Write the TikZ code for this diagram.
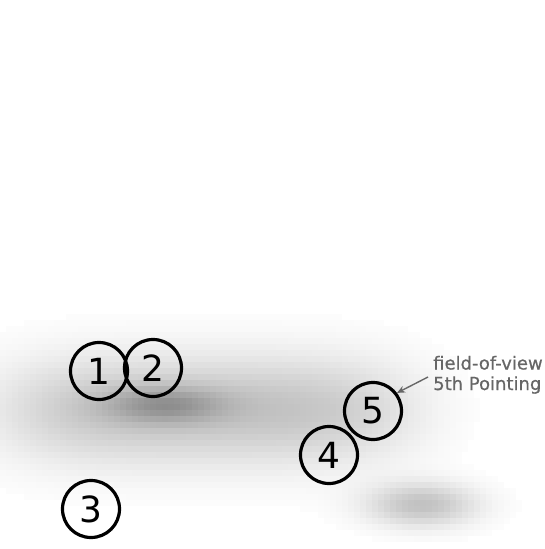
\documentclass[tikz,border=0pt]{standalone}
\usepackage{fontspec}
\setmainfont{DejaVu Sans}
\newfontfamily\fovfont{DejaVu Sans}[FakeBold=0.7]
\usetikzlibrary{arrows.meta}
\tikzset{
  field/.style={circle, draw=black, line width=3.2pt, minimum size=57pt, inner sep=0pt,
    font=\fontsize{36}{40}\selectfont},
  fovtext/.style={text=black!60, font=\fovfont\fontsize{18}{20}\selectfont, inner sep=0pt},
  fovarrow/.style={draw=black!60, line width=1.4pt, -{Stealth[length=8pt,width=7pt]}}
}
\begin{document}
\begin{tikzpicture}[x=1pt,y=-1pt]
\useasboundingbox (0,0) rectangle (544,549);
% blurred background intensity
\foreach \i in {0,...,90}{
  \foreach \j in {0,...,43}{
    \pgfmathsetmacro\xx{\i*6+3}
    \pgfmathsetmacro\yy{290+\j*6+3}
    \pgfmathsetmacro\ax{(\xx-205)/205}
    \pgfmathsetmacro\ay{(\yy-410)/54}
    \pgfmathsetmacro\bx{(\xx-165)/58}
    \pgfmathsetmacro\by{(\yy-405)/18}
    \pgfmathsetmacro\cx{(\xx-422)/55}
    \pgfmathsetmacro\cy{(\yy-505)/22}
    \pgfmathsetmacro\dd{100*(0.24*exp(-\ax*\ax*\ax*\ax-\ay*\ay)+0.21*exp(-\bx*\bx-\by*\by)+0.24*exp(-\cx*\cx-\cy*\cy))}
    \ifdim\dd pt>1pt
      \fill[black!\dd] (\xx-3,\yy-3) rectangle ++(6.4,6.4);
    \fi
  }
}
\node[field] (n1) at (99,371) {1};
\node[field] (n2) at (153,368) {2};
\node[field] (n3) at (91,509) {3};
\node[field] (n4) at (329,455) {4};
\node[field] (n5) at (373,411) {5};
\node[fovtext, anchor=base west] (fov1) at (433,369.5) {field-of-view};
\node[fovtext, anchor=base west] (fov2) at (433,390) {5th Pointing};
\coordinate (arrtail) at (428,377);
\draw[fovarrow] (arrtail) -- (n5.37);
\end{tikzpicture}
\end{document}
